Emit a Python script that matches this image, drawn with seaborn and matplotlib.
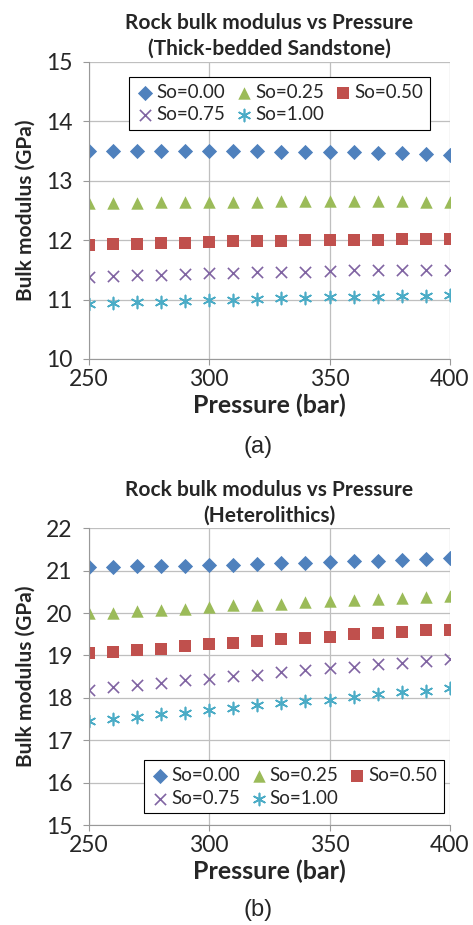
import numpy as np
import pandas as pd
import matplotlib
matplotlib.use("Agg")
import matplotlib.pyplot as plt
import seaborn as sns

pressure = [250, 260, 270, 280, 290, 300, 310, 320, 330, 340, 350, 360, 370, 380, 390, 400]
labels = ['So=0.00', 'So=0.25', 'So=0.50', 'So=0.75', 'So=1.00']

# (a) Thick-bedded Sandstone
sand_000 = [13.50, 13.50, 13.50, 13.50, 13.50, 13.50, 13.50, 13.50, 13.49, 13.49, 13.48, 13.48, 13.47, 13.46, 13.45, 13.44]
sand_025 = [12.62, 12.62, 12.63, 12.64, 12.64, 12.65, 12.65, 12.65, 12.66, 12.66, 12.66, 12.66, 12.66, 12.66, 12.65, 12.65]
sand_050 = [11.92, 11.93, 11.94, 11.95, 11.96, 11.97, 11.98, 11.98, 11.99, 12.00, 12.00, 12.01, 12.01, 12.02, 12.02, 12.02]
sand_075 = [11.38, 11.40, 11.41, 11.42, 11.43, 11.44, 11.45, 11.46, 11.47, 11.47, 11.48, 11.49, 11.49, 11.50, 11.50, 11.50]
sand_100 = [10.93, 10.94, 10.95, 10.96, 10.98, 10.99, 11.00, 11.01, 11.02, 11.03, 11.04, 11.05, 11.05, 11.06, 11.06, 11.07]

# (b) Heterolithics
het_000 = [21.08, 21.09, 21.10, 21.11, 21.12, 21.13, 21.14, 21.16, 21.17, 21.19, 21.20, 21.22, 21.23, 21.25, 21.27, 21.29]
het_025 = [20.00, 20.00, 20.04, 20.08, 20.10, 20.14, 20.18, 20.20, 20.22, 20.25, 20.28, 20.30, 20.34, 20.36, 20.38, 20.41]
het_050 = [19.05, 19.09, 19.13, 19.16, 19.22, 19.26, 19.30, 19.34, 19.38, 19.40, 19.44, 19.50, 19.54, 19.56, 19.59, 19.61]
het_075 = [18.18, 18.26, 18.31, 18.35, 18.41, 18.45, 18.51, 18.55, 18.61, 18.65, 18.71, 18.72, 18.79, 18.83, 18.87, 18.91]
het_100 = [17.45, 17.50, 17.55, 17.62, 17.65, 17.71, 17.77, 17.83, 17.88, 17.92, 17.96, 18.02, 18.08, 18.13, 18.17, 18.23]

colors = ['#4F81BD', '#9BBB59', '#C0504D', '#8064A2', '#4BACC6']
markers = ['D', '^', 's', 'x', (6, 2, 0)]
sizes = [60, 80, 75, 65, 75]

sns.set_style("whitegrid")
plt.rcParams['font.family'] = ['Lato', 'DejaVu Sans']

fig = plt.figure(figsize=(4.73, 9.25), dpi=100)


def panel(rect, series, title, ylim, legend_loc, legend_anchor, tag, tag_y):
    ax = fig.add_axes(rect)
    for vals, lab, c, m, s in zip(series, labels, colors, markers, sizes):
        df = pd.DataFrame({'Pressure': pressure, 'K': vals})
        sns.scatterplot(data=df, x='Pressure', y='K', ax=ax, color=c, marker=m, s=s,
                        linewidth=1.2 if m in ('x', (6, 2, 0)) else 0, label=lab, legend=False)
    ax.set_xlim(250, 400)
    ax.set_ylim(*ylim)
    ax.set_xticks([250, 300, 350, 400])
    ax.set_yticks(np.arange(ylim[0], ylim[1] + 1, 1))
    ax.grid(True, color='#bfbfbf', linewidth=0.9)
    for side in ['top', 'right']:
        ax.spines[side].set_visible(False)
    for side in ['left', 'bottom']:
        ax.spines[side].set_color('#999999')
    ax.tick_params(axis='both', labelsize=16.5, length=4, color='#999999', direction='out',
                   left=True, bottom=True)
    ax.tick_params(axis='y', pad=8)
    ax.tick_params(axis='x', pad=3)
    ax.set_xlabel('Pressure (bar)', fontsize=18, fontweight='bold', labelpad=3)
    ax.set_ylabel('Bulk modulus (GPa)', fontsize=15, fontweight='bold', labelpad=7)
    ax.set_title(title, fontsize=15, fontweight='bold', pad=5, linespacing=1.35)
    # row-wise legend order like the original
    handles, labs = ax.get_legend_handles_labels()
    order = [0, 3, 1, 4, 2]
    leg = ax.legend([handles[i] for i in order], [labs[i] for i in order],
                    loc=legend_loc, bbox_to_anchor=legend_anchor, ncol=3, fontsize=13.5,
                    frameon=True, fancybox=False, edgecolor='black', framealpha=1,
                    handletextpad=0.1, columnspacing=0.5, borderpad=0.35, labelspacing=0.3,
                    handlelength=1.0, borderaxespad=0)
    leg.get_frame().set_linewidth(0.8)
    fig.text(0.545, tag_y, tag, ha='center', va='center', fontsize=17, family='Liberation Sans')
    return ax


panel([0.188, 0.612, 0.763, 0.321],
      [sand_000, sand_025, sand_050, sand_075, sand_100],
      'Rock bulk modulus vs Pressure\n(Thick-bedded Sandstone)', (10, 15),
      'upper center', (0.528, 0.949), '(a)', 1 - 447 / 925)
panel([0.188, 0.108, 0.763, 0.321],
      [het_000, het_025, het_050, het_075, het_100],
      'Rock bulk modulus vs Pressure\n(Heterolithics)', (15, 22),
      'lower center', (0.568, 0.04), '(b)', 1 - 910 / 925)

fig.savefig('out.png', dpi=100)
